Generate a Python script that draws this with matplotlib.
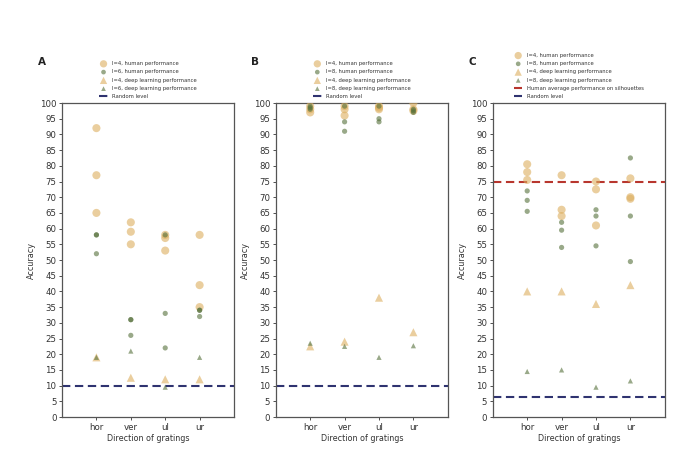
import numpy as np
import matplotlib
matplotlib.use('Agg')
import matplotlib.pyplot as plt

# categories on the x axis
directions = ['hor', 'ver', 'ul', 'ur']

# panel A (l=4 / l=6)
a_h4 = [[92, 77, 65], [62, 59, 55], [58, 57, 53], [58, 42, 35]]
a_h6 = [[58, 58, 52], [31, 31, 26], [58, 33, 22], [34, 34, 32]]
a_d4 = [19, 12.5, 12, 12]
a_d6 = [19, 21, 9.5, 19]
a_random = 10

# panel B (l=4 / l=8)
b_h4 = [[97, 98, 99], [99, 98, 96], [99, 98, 98.5], [100, 98, 97.5]]
b_h8 = [[99, 98.5, 98], [99, 94, 91], [99, 95, 94], [98, 97.5, 97]]
b_d4 = [22.5, 24, 38, 27]
b_d8 = [23.5, 22.5, 19, 22.7]
b_random = 10

# panel C (l=4 / l=8)
c_h4 = [[80.5, 78, 75.5], [77, 66, 64], [75, 72.5, 61], [76, 70, 69.5]]
c_h8 = [[72, 69, 65.5], [62, 59.5, 54], [66, 64, 54.5], [82.5, 64, 49.5]]
c_d4 = [40, 40, 36, 42]
c_d8 = [14.5, 15, 9.5, 11.5]
c_random = 6.25
c_human_avg = 75

tan = '#dcae5e'
green = '#55703a'
navy = '#2f3370'
red = '#b8362e'

fig = plt.figure(figsize=(7, 4.58), dpi=100)
lefts = [0.0886, 0.394, 0.704]
panels = [
    ('A', 6, a_h4, a_h6, a_d4, a_d6, a_random, None),
    ('B', 8, b_h4, b_h8, b_d4, b_d8, b_random, None),
    ('C', 8, c_h4, c_h8, c_d4, c_d8, c_random, c_human_avg),
]

for left, (letter, l2, h4, h2, d4, d2, rnd, havg) in zip(lefts, panels):
    ax = fig.add_axes([left, 0.0895, 0.2457, 0.6856])
    xs = np.arange(1, len(directions) + 1)
    for i, x in enumerate(xs):
        lab1 = 'l=4, human performance' if i == 0 else None
        lab2 = 'l=%d, human performance' % l2 if i == 0 else None
        ax.scatter([x] * len(h4[i]), h4[i], s=34, color=tan, alpha=0.6,
                   edgecolors='none', label=lab1, zorder=3)
        ax.scatter([x] * len(h2[i]), h2[i], s=14, color=green, alpha=0.6,
                   edgecolors='none', label=lab2, zorder=3)
    ax.scatter(xs, d4, s=34, marker='^', color=tan, alpha=0.6,
               edgecolors='none', label='l=4, deep learning performance', zorder=3)
    ax.scatter(xs, d2, s=14, marker='^', color=green, alpha=0.6,
               edgecolors='none', label='l=%d, deep learning performance' % l2, zorder=3)
    if havg is not None:
        ax.axhline(havg, color=red, ls='--', lw=1.5, dashes=(4, 2.2),
                   label='Human average performance on silhouettes')
    ax.axhline(rnd, color=navy, ls='--', lw=1.5, dashes=(4, 2.2), label='Random level')

    ax.set_xlim(0, 5)
    ax.set_ylim(0, 100)
    ax.set_xticks(xs)
    ax.set_xticklabels(directions)
    ax.set_yticks(np.arange(0, 101, 5))
    ax.tick_params(labelsize=6.2, length=2.5, width=0.6, colors='#333333', pad=1.5)
    for sp in ax.spines.values():
        sp.set_color('#555555')
        sp.set_linewidth(0.9)
    ax.set_xlabel('Direction of gratings', fontsize=5.8, color='#333333', labelpad=2)
    ax.set_ylabel('Accuracy', fontsize=5.8, color='#333333', labelpad=3)
    ax.legend(loc='lower center', bbox_to_anchor=(0.5, 1.0), frameon=False,
              fontsize=3.8, labelspacing=0.62, handletextpad=0.8,
              handlelength=1.6, borderaxespad=0.3, labelcolor='#333333',
              markerscale=0.9)
    fig.text(left - 0.035, 0.865, letter, fontsize=7.5, fontweight='bold',
             color='#222222', va='center', ha='left')

fig.savefig('out.png', dpi=100)
